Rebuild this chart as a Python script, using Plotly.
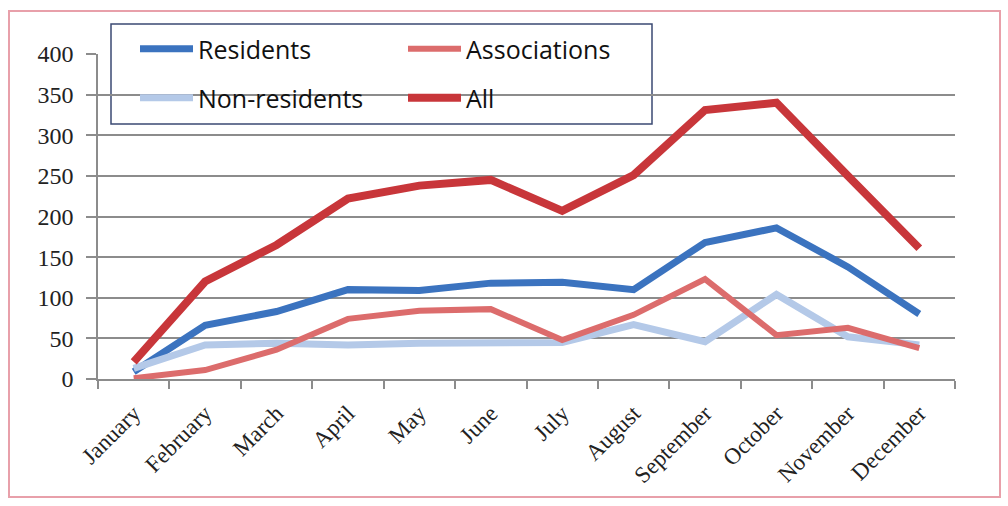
import plotly.graph_objects as go

months = ["January", "February", "March", "April", "May", "June", "July",
          "August", "September", "October", "November", "December"]
residents = [9, 66, 83, 110, 109, 118, 119, 110, 168, 186, 138, 80]
non_residents = [13, 42, 44, 42, 44, 45, 45, 67, 46, 104, 52, 42]
associations = [1, 11, 36, 74, 84, 86, 48, 79, 123, 54, 63, 38]
all_users = [21, 120, 165, 222, 238, 245, 207, 251, 331, 340, 250, 161]

W, H = 1008, 506
L, R, T, B = 98, 53, 54, 127
PW, PH = W - L - R, H - T - B

def px(x):
    return (x - L) / PW

def py(y):
    return (H - B - y) / PH

fig = go.Figure()
fig.add_trace(go.Scatter(x=months, y=residents, name="Residents", mode="lines",
                         line=dict(color="#3b73bf", width=7), legend="legend", legendrank=1))
fig.add_trace(go.Scatter(x=months, y=non_residents, name="Non-residents", mode="lines",
                         line=dict(color="#b4c9e8", width=7), legend="legend2", legendrank=1))
fig.add_trace(go.Scatter(x=months, y=associations, name="Associations", mode="lines",
                         line=dict(color="#dc6c6c", width=6), legend="legend", legendrank=2))
fig.add_trace(go.Scatter(x=months, y=all_users, name="All", mode="lines",
                         line=dict(color="#c8363a", width=8), legend="legend2", legendrank=2))

legfont = dict(family="Open Sans", size=25, color="#111111")
common_leg = dict(orientation="h", xanchor="left", yanchor="middle",
                  bgcolor="rgba(0,0,0,0)", borderwidth=0, font=legfont,
                  entrywidth=200, entrywidthmode="pixels", itemwidth=53)

fig.update_layout(
    width=W, height=H, autosize=False,
    margin=dict(l=L, r=R, t=T, b=B),
    paper_bgcolor="white", plot_bgcolor="white",
    showlegend=True,
    legend=dict(x=px(135), y=py(49), **common_leg),
    legend2=dict(x=px(135), y=py(98), **common_leg),
    xaxis=dict(type="category", range=[-0.5, 11.5], showline=True, linecolor="#8c8c8c",
               linewidth=1.5, ticks="outside", tickson="boundaries", ticklen=8,
               tickcolor="#8c8c8c", tickwidth=1.5, tickangle=-45, showgrid=False,
               ticklabelstandoff=10,
               tickfont=dict(family="Liberation Serif", size=23, color="#222222")),
    yaxis=dict(range=[0, 400], dtick=50, tick0=0, showgrid=True, gridcolor="#8c8c8c",
               gridwidth=1.5, showline=True, linecolor="#8c8c8c", linewidth=1.5,
               ticks="outside", ticklen=10, tickcolor="#8c8c8c", tickwidth=1.5,
               zeroline=False, ticklabelstandoff=8,
               tickfont=dict(family="Liberation Serif", size=24, color="#222222")),
    shapes=[
        dict(type="rect", xref="paper", yref="paper", x0=px(111), x1=px(652),
             y0=py(124), y1=py(24), line=dict(color="#3b4a73", width=1.5),
             fillcolor="white", layer="between"),
        dict(type="rect", xref="paper", yref="paper", x0=px(9), x1=px(1000),
             y0=py(497), y1=py(11), line=dict(color="#e8a0aa", width=2),
             fillcolor="rgba(0,0,0,0)", layer="above"),
    ],
)

fig.write_html("out.html")
